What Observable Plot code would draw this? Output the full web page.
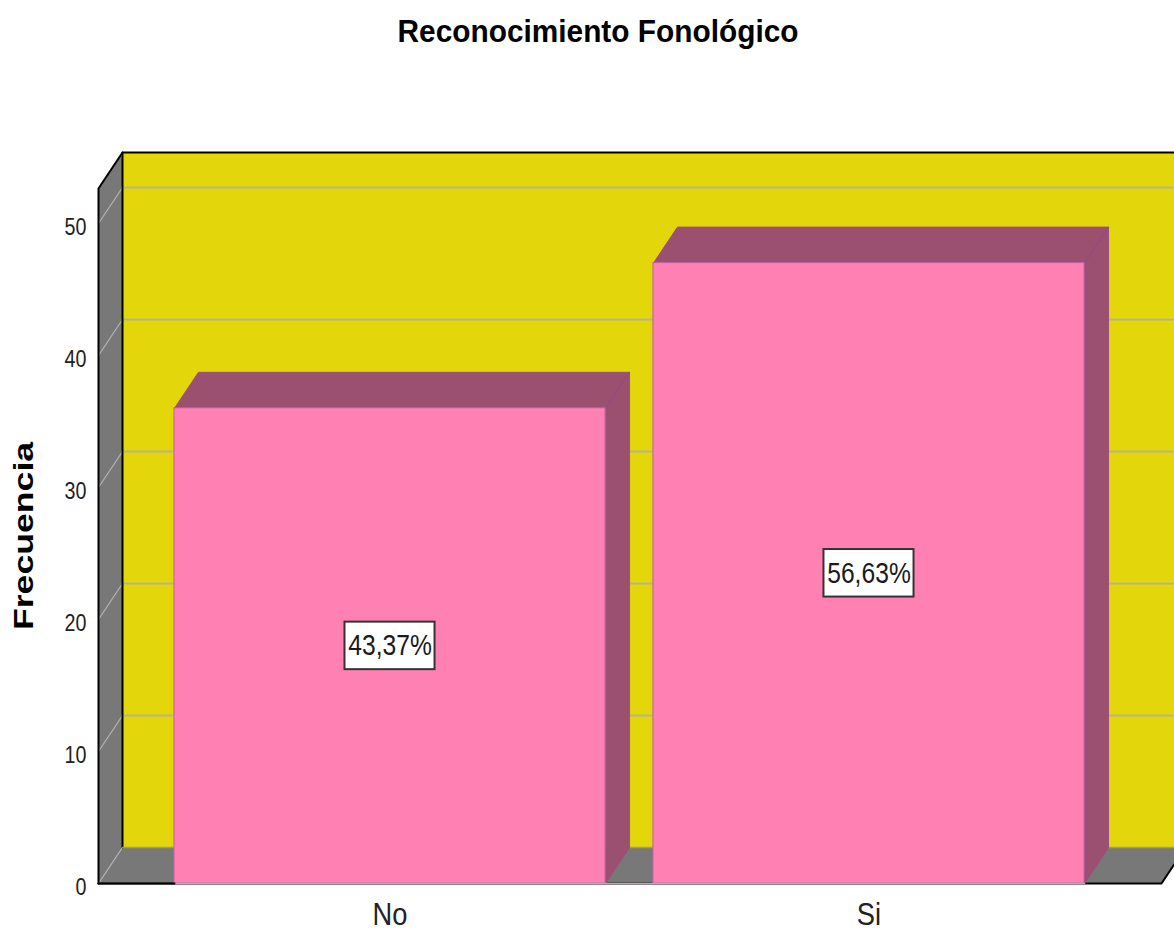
<!DOCTYPE html>
<html><head><meta charset="utf-8">
<script src="https://cdn.jsdelivr.net/npm/d3@7"></script>
<script src="https://cdn.jsdelivr.net/npm/@observablehq/plot@0.6"></script>
<style>
html,body{margin:0;padding:0;background:#fff;overflow:hidden}
#t{height:60px;box-sizing:border-box;padding-top:12px;text-align:center;font:bold 32px/38px "Liberation Sans",Arial,sans-serif;color:#000;width:1196px;transform:scaleX(.932);overflow:visible;white-space:nowrap}
svg{display:block}
</style></head><body>
<div id="t">Reconocimiento Fonológico</div>
<div id="c"></div>
<script>
const categories = ["No", "Si"];
const counts = [36, 47];
const percentLabels = ["43,37%", "56,63%"];
const yTicks = [0, 10, 20, 30, 40, 50];
const yLabel = "Frecuencia";

const barHalf = 0.45, depthX = 24 / 479, depthY = 36 / 13.2;
const xLeft = -0.6086, xRight = 1.6378, xFloorEnd = 1.6106, yTop = 52.65;
const labelHalfX = 0.094, labelHalfY = 1.8;
const sans = '"Liberation Sans",Arial,sans-serif';

const poly = (pts, fill, stroke = "none", strokeWidth = 1) =>
  Plot.line(pts, {x: d => d[0], y: d => d[1], fill, stroke, strokeWidth, curve: "linear"});
const seg = (pts, stroke, strokeWidth) =>
  Plot.line(pts, {x: d => d[0], y: d => d[1], stroke, strokeWidth, curve: "linear"});

const far = xRight + 0.2;
const bars = categories.map((c, i) => ({c, i, v: counts[i], label: percentLabels[i]}));
const marks = [];

// walls and floor
marks.push(poly([[xLeft + depthX, depthY], [far, depthY], [far, yTop + depthY], [xLeft + depthX, yTop + depthY]], "#e3d70c"));
marks.push(poly([[xLeft, 0], [xLeft + depthX, depthY], [xLeft + depthX, yTop + depthY], [xLeft, yTop]], "#787878"));
marks.push(poly([[xLeft, 0], [xFloorEnd, 0], [xFloorEnd + depthX, depthY], [xLeft + depthX, depthY]], "#787878"));

// gridlines
for (const t of yTicks) {
  if (t > 0) marks.push(seg([[xLeft + depthX, t + depthY], [far, t + depthY]], "#bab587", 2));
  marks.push(seg([[xLeft, t], [xLeft + depthX, t + depthY]], "#b4b4b4", 1.2));
}

// outlines
marks.push(seg([[xLeft, 0], [xLeft, yTop], [xLeft + depthX, yTop + depthY], [far, yTop + depthY]], "#000", 2));
marks.push(seg([[xLeft + depthX, depthY], [xLeft + depthX, yTop + depthY]], "#000", 2));
marks.push(seg([[xLeft, 0], [xFloorEnd, 0], [xFloorEnd + depthX, depthY]], "#000", 2));
marks.push(seg([[xLeft + depthX, depthY], [far, depthY]], "#a5a14a", 1.5));

// bars
for (const b of bars) {
  const l = b.i - barHalf, r = b.i + barHalf;
  marks.push(poly([[l, b.v], [r, b.v], [r + depthX, b.v + depthY], [l + depthX, b.v + depthY], [l, b.v]], "#9b5070", "#9a4f80", 1));
  marks.push(poly([[r, 0], [r + depthX, depthY], [r + depthX, b.v + depthY], [r, b.v], [r, 0]], "#9b5070", "#9a4f80", 1));
  marks.push(seg([[r, b.v], [r + depthX, b.v + depthY]], "#8a4a8c", 1));
}
marks.push(Plot.rect(bars, {
  x1: d => d.i - barHalf, x2: d => d.i + barHalf, y1: 0, y2: "v",
  fill: "#ff80b3", stroke: "#c060a8", strokeWidth: 1, inset: 0
}));
marks.push(seg([[xLeft, 0], [1 + barHalf, 0]], "#b9a9b0", 1.5));
marks.push(seg([[xLeft, 0], [-barHalf, 0]], "#000", 2));

// value labels
marks.push(Plot.rect(bars, {
  x1: d => d.i - labelHalfX, x2: d => d.i + labelHalfX,
  y1: d => d.v / 2 - labelHalfY, y2: d => d.v / 2 + labelHalfY,
  fill: "#fff", stroke: "#333", strokeWidth: 2
}));
marks.push(Plot.text(bars, {
  x: "i", y: d => d.v / 2, text: "label", className: "squeeze-value",
  fontSize: 29, fontFamily: sans, fill: "#1a1a1a"
}));

// axes
marks.push(Plot.axisY({
  ticks: yTicks, tickSize: 0, tickPadding: 12, label: null, className: "squeeze-tick",
  fontSize: 24, fontFamily: sans, fill: "#222", dy: 4
}));
marks.push(Plot.axisX({
  ticks: [0, 1], tickFormat: i => categories[i], tickSize: 0, tickPadding: 19, label: null, className: "squeeze-cat",
  fontSize: 31, fontFamily: sans, fill: "#222"
}));
marks.push(Plot.text([yLabel], {
  text: d => d, frameAnchor: "left", dx: -74, y: 26.33, rotate: -90, textAnchor: "middle", className: "stretch-y",
  fontSize: 27, fontWeight: "bold", fontFamily: sans, fill: "#000"
}));

const chart = Plot.plot({
  width: 1174, height: 872,
  marginTop: 0, marginRight: 0, marginBottom: 49, marginLeft: 98,
  style: {background: "#fff", overflow: "hidden"},
  x: {type: "linear", domain: [xLeft, xRight]},
  y: {type: "linear", domain: [0, 823 / 13.2]},
  marks
});
document.getElementById("c").append(chart);

// The reference's type is horizontally squeezed: adjust the glyph widths of the real text.
const fit = (selector, ratio) => chart.querySelectorAll(selector + " text").forEach(t => {
  t.setAttribute("textLength", t.getComputedTextLength() * ratio);
  t.setAttribute("lengthAdjust", "spacingAndGlyphs");
});
fit(".squeeze-value", 0.85);
fit(".squeeze-tick", 0.82);
fit(".squeeze-cat", 0.88);
fit(".stretch-y", 1.32);
</script>
</body></html>
